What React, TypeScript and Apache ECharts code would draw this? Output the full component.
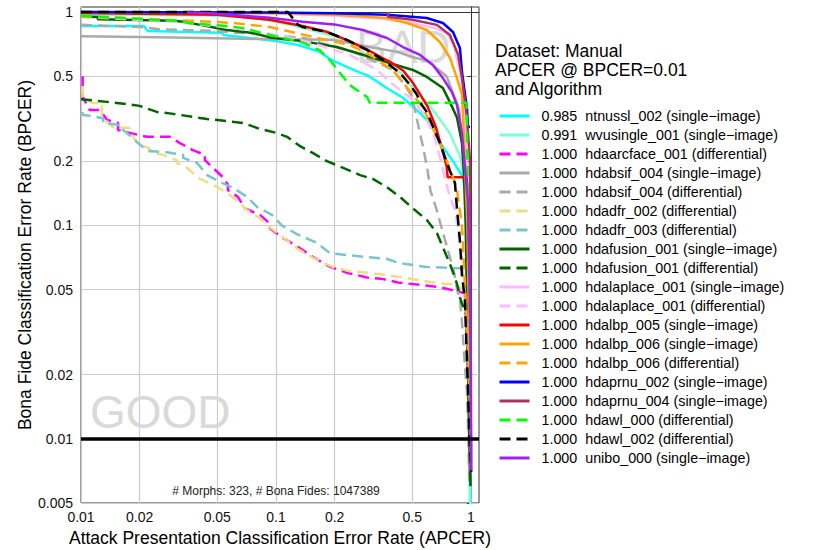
import React, { useEffect, useRef } from "react";
import * as echarts from "echarts";

// ---------- axes ----------
const xTickValues = [0.01, 0.02, 0.05, 0.1, 0.2, 0.5, 1];
const xTickLabels = ["0.01", "0.02", "0.05", "0.1", "0.2", "0.5", "1"];
const yTickValues = [0.005, 0.01, 0.02, 0.05, 0.1, 0.2, 0.5, 1];
const yTickLabels = ["0.005", "0.01", "0.02", "0.05", "0.1", "0.2", "0.5", "1"];
const xRange = [0.01, 1.1];
const yRange = [0.005, 1.055];
const bpcerThreshold = 0.01;

// ---------- legend ----------
const legendTitle = "Dataset: Manual\nAPCER @ BPCER=0.01\nand Algorithm";
const algorithms = [
  "ntnussl_002 (single\u2212image)",
  "wvusingle_001 (single\u2212image)",
  "hdaarcface_001 (differential)",
  "hdabsif_004 (single\u2212image)",
  "hdabsif_004 (differential)",
  "hdadfr_002 (differential)",
  "hdadfr_003 (differential)",
  "hdafusion_001 (single\u2212image)",
  "hdafusion_001 (differential)",
  "hdalaplace_001 (single\u2212image)",
  "hdalaplace_001 (differential)",
  "hdalbp_005 (single\u2212image)",
  "hdalbp_006 (single\u2212image)",
  "hdalbp_006 (differential)",
  "hdaprnu_002 (single\u2212image)",
  "hdaprnu_004 (single\u2212image)",
  "hdawl_000 (differential)",
  "hdawl_002 (differential)",
  "unibo_000 (single\u2212image)",
];
const apcerAtThreshold = [
  "0.985", "0.991", "1.000", "1.000", "1.000", "1.000", "1.000", "1.000", "1.000", "1.000",
  "1.000", "1.000", "1.000", "1.000", "1.000", "1.000", "1.000", "1.000", "1.000",
];
const countsNote = "# Morphs: 323, # Bona Fides: 1047389";

// ---------- curves: [APCER, BPCER] ----------
const ntnussl002Single = [[0.01,0.86],[0.021,0.86],[0.022,0.815],[0.052,0.8],[0.054,0.78],[0.1,0.73],[0.13,0.7],[0.168,0.65],[0.19,0.6],[0.25,0.535],[0.3,0.5],[0.37,0.44],[0.45,0.395],[0.55,0.335],[0.64,0.29],[0.69,0.245],[0.81,0.2],[0.91,0.168],[0.95,0.13],[0.965,0.092],[0.975,0.03],[0.985,0.01],[0.99,0.004]];
const wvusingle001Single = [[0.01,0.97],[0.04,0.965],[0.07,0.95],[0.1,0.9],[0.133,0.85],[0.2,0.77],[0.28,0.68],[0.37,0.58],[0.45,0.505],[0.5,0.44],[0.57,0.39],[0.62,0.36],[0.7,0.31],[0.78,0.27],[0.88,0.21],[0.93,0.158],[0.955,0.092],[0.975,0.03],[0.991,0.01],[0.996,0.004]];
const hdaarcface001Diff = [[0.0102,0.5],[0.0102,0.4],[0.0111,0.347],[0.0125,0.347],[0.0136,0.312],[0.0155,0.302],[0.0155,0.28],[0.0178,0.271],[0.0218,0.26],[0.0286,0.26],[0.0322,0.243],[0.0375,0.225],[0.0432,0.214],[0.0432,0.202],[0.0475,0.186],[0.0535,0.168],[0.0567,0.155],[0.0567,0.146],[0.0638,0.136],[0.0693,0.12],[0.0828,0.112],[0.093,0.102],[0.093,0.097],[0.107,0.088],[0.128,0.08],[0.155,0.071],[0.189,0.064],[0.231,0.06],[0.293,0.057],[0.354,0.056],[0.422,0.054],[0.69,0.0514],[0.88,0.0487],[0.93,0.048],[0.97,0.02],[0.99,0.007]];
const hdabsif004Single = [[0.01,0.77],[0.03,0.76],[0.1,0.745],[0.2,0.74],[0.3,0.685],[0.42,0.65],[0.5,0.615],[0.6,0.59],[0.75,0.5],[0.87,0.35],[0.94,0.15],[0.98,0.03],[1.0,0.007]];
const hdabsif004Diff = [[0.01,0.87],[0.02,0.85],[0.025,0.83],[0.04,0.82],[0.048,0.815],[0.14,0.755],[0.25,0.65],[0.33,0.58],[0.4,0.535],[0.45,0.465],[0.5,0.4],[0.53,0.31],[0.57,0.23],[0.6,0.18],[0.62,0.145],[0.66,0.122],[0.72,0.092],[0.77,0.074],[0.82,0.06],[0.85,0.05],[0.88,0.044],[0.9,0.035],[0.93,0.0225],[0.953,0.017],[0.97,0.01],[0.98,0.006]];
const hdadfr002Diff = [[0.0102,0.45],[0.0102,0.4],[0.0115,0.374],[0.0128,0.374],[0.0128,0.32],[0.0146,0.289],[0.0178,0.286],[0.0178,0.271],[0.0196,0.243],[0.0226,0.228],[0.0226,0.22],[0.0263,0.214],[0.031,0.202],[0.031,0.196],[0.035,0.186],[0.0398,0.167],[0.0475,0.155],[0.0547,0.144],[0.0631,0.131],[0.071,0.118],[0.0828,0.108],[0.093,0.098],[0.1086,0.088],[0.128,0.078],[0.155,0.0704],[0.196,0.0638],[0.239,0.061],[0.293,0.06],[0.371,0.0585],[0.69,0.0535],[0.8,0.053],[0.93,0.05],[0.97,0.02],[0.99,0.007]];
const hdadfr003Diff = [[0.0102,0.34],[0.0102,0.329],[0.0111,0.326],[0.013,0.318],[0.013,0.302],[0.0159,0.295],[0.0159,0.286],[0.0172,0.271],[0.0196,0.243],[0.0221,0.223],[0.0276,0.22],[0.0334,0.214],[0.0334,0.207],[0.0394,0.196],[0.0443,0.172],[0.0516,0.16],[0.0602,0.15],[0.071,0.136],[0.08,0.122],[0.0954,0.112],[0.107,0.1],[0.128,0.091],[0.162,0.0828],[0.189,0.0742],[0.231,0.0726],[0.293,0.071],[0.371,0.0696],[0.432,0.0665],[0.594,0.0638],[0.88,0.063],[0.93,0.06],[0.97,0.02],[0.99,0.007]];
const hdafusion001Single = [[0.01,0.95],[0.0122,0.947],[0.0122,0.925],[0.03,0.91],[0.0334,0.9],[0.0408,0.87],[0.0561,0.823],[0.0762,0.797],[0.093,0.76],[0.137,0.73],[0.205,0.685],[0.279,0.63],[0.384,0.576],[0.504,0.535],[0.594,0.496],[0.718,0.44],[0.78,0.378],[0.848,0.32],[0.9,0.243],[0.92,0.176],[0.94,0.1],[0.96,0.03],[0.98,0.01],[0.995,0.006]];
const hdafusion001Diff = [[0.01,0.39],[0.0136,0.379],[0.0172,0.37],[0.02,0.363],[0.0245,0.34],[0.0297,0.333],[0.0443,0.315],[0.0561,0.308],[0.0677,0.302],[0.0828,0.283],[0.101,0.271],[0.114,0.26],[0.133,0.235],[0.155,0.218],[0.1825,0.2],[0.221,0.186],[0.27,0.172],[0.314,0.165],[0.371,0.151],[0.432,0.136],[0.504,0.12],[0.594,0.106],[0.669,0.092],[0.718,0.079],[0.78,0.066],[0.828,0.057],[0.857,0.0514],[0.878,0.046],[0.9,0.043],[0.942,0.039],[0.97,0.02],[1.0,0.007]];
const hdalaplace001Single = [[0.01,0.99],[0.1,0.98],[0.2,0.96],[0.35,0.93],[0.5,0.888],[0.65,0.84],[0.75,0.797],[0.82,0.7],[0.85,0.596],[0.9,0.48],[0.95,0.2],[0.98,0.05],[1.0,0.01],[1.0,0.007]];
const hdalaplace001Diff = [[0.01,0.95],[0.03,0.9],[0.0736,0.823],[0.0878,0.8],[0.15,0.72],[0.239,0.63],[0.33,0.535],[0.384,0.47],[0.448,0.42],[0.49,0.395],[0.58,0.33],[0.66,0.25],[0.72,0.18],[0.78,0.136],[0.83,0.118],[0.9,0.07],[0.96,0.03],[1.0,0.01],[1.0,0.007]];
const hdalbp005Single = [[0.01,0.99],[0.05,0.97],[0.093,0.92],[0.137,0.86],[0.18,0.81],[0.23,0.74],[0.3,0.66],[0.35,0.61],[0.39,0.58],[0.45,0.53],[0.5,0.47],[0.55,0.41],[0.6,0.36],[0.66,0.29],[0.7,0.24],[0.75,0.19],[0.76,0.168],[0.95,0.168],[0.96,0.1],[0.98,0.03],[1.0,0.01],[1.0,0.007]];
const hdalbp006Single = [[0.01,1.0],[0.093,0.99],[0.205,0.97],[0.37,0.937],[0.47,0.888],[0.594,0.823],[0.693,0.723],[0.78,0.61],[0.848,0.49],[0.9,0.41],[0.91,0.33],[0.93,0.2],[0.96,0.1],[0.98,0.03],[1.0,0.01],[1.0,0.007]];
const hdalbp006Diff = [[0.01,0.95],[0.016,0.937],[0.0297,0.917],[0.0475,0.9],[0.0602,0.888],[0.093,0.85],[0.155,0.764],[0.239,0.7],[0.303,0.63],[0.4,0.53],[0.504,0.41],[0.567,0.355],[0.693,0.243],[0.753,0.2],[0.809,0.168],[0.848,0.146],[0.9,0.1],[0.96,0.03],[1.0,0.01],[1.0,0.007]];
const hdaprnu002Single = [[0.01,1.0],[0.093,0.995],[0.2,0.985],[0.37,0.97],[0.594,0.937],[0.718,0.888],[0.809,0.806],[0.878,0.678],[0.9,0.523],[0.93,0.42],[0.955,0.35],[0.965,0.29],[0.99,0.29]];
const hdaprnu004Single = [[0.375,1.0],[0.375,0.95],[0.5,0.92],[0.669,0.87],[0.78,0.78],[0.86,0.63],[0.9,0.49],[0.95,0.33],[0.99,0.2],[1.0,0.01],[1.0,0.007]];
const hdawl000Diff = [[0.01,0.96],[0.0194,0.93],[0.0245,0.915],[0.031,0.91],[0.0362,0.885],[0.0475,0.87],[0.0561,0.86],[0.0677,0.84],[0.0828,0.8],[0.093,0.78],[0.105,0.76],[0.137,0.72],[0.168,0.66],[0.189,0.595],[0.213,0.518],[0.239,0.455],[0.27,0.42],[0.293,0.4],[0.303,0.375],[0.6,0.375],[0.95,0.375],[0.96,0.2],[0.98,0.05],[1.0,0.01],[1.0,0.007]];
const hdawl002Diff = [[0.01,1.0],[0.115,1.0],[0.13,0.87],[0.137,0.85],[0.1825,0.806],[0.231,0.74],[0.293,0.664],[0.354,0.596],[0.432,0.518],[0.487,0.455],[0.528,0.41],[0.561,0.366],[0.594,0.34],[0.693,0.243],[0.78,0.18],[0.828,0.158],[0.848,0.12],[0.878,0.085],[0.9,0.058],[0.931,0.045],[0.96,0.02],[1.0,0.007]];
const unibo000Single = [[0.035,0.995],[0.0443,0.99],[0.093,0.94],[0.137,0.9],[0.205,0.87],[0.279,0.823],[0.371,0.755],[0.448,0.685],[0.548,0.629],[0.638,0.564],[0.718,0.49],[0.8,0.42],[0.848,0.366],[0.9,0.27],[0.931,0.188],[0.965,0.13],[0.988,0.045],[1.0,0.02],[1.0,0.0071]];

const curves = [
  ntnussl002Single, wvusingle001Single, hdaarcface001Diff, hdabsif004Single, hdabsif004Diff,
  hdadfr002Diff, hdadfr003Diff, hdafusion001Single, hdafusion001Diff, hdalaplace001Single,
  hdalaplace001Diff, hdalbp005Single, hdalbp006Single, hdalbp006Diff, hdaprnu002Single,
  hdaprnu004Single, hdawl000Diff, hdawl002Diff, unibo000Single,
];

// ---------- styles ----------
const seriesStyles = [
  { color: "#00FFFF", dashed: false },
  { color: "#7FFFD4", dashed: false },
  { color: "#FF00FF", dashed: true },
  { color: "#AAAAAA", dashed: false },
  { color: "#AAAAAA", dashed: true },
  { color: "#EEDD82", dashed: true },
  { color: "#7AC5CD", dashed: true },
  { color: "#006400", dashed: false },
  { color: "#006400", dashed: true },
  { color: "#FFBBFF", dashed: false },
  { color: "#FFBBFF", dashed: true },
  { color: "#FF0000", dashed: false },
  { color: "#FFA500", dashed: false },
  { color: "#FFA500", dashed: true },
  { color: "#0000FF", dashed: false },
  { color: "#B03060", dashed: false },
  { color: "#00FF00", dashed: true },
  { color: "#000000", dashed: true },
  { color: "#A020F0", dashed: false },
];

const FONT = '"Liberation Sans", Arial, Helvetica, sans-serif';
const lg = (v: number) => Math.log10(v);

function labelFor(values: number[], labels: string[]) {
  return (v: number) => {
    const i = values.findIndex((t) => Math.abs(lg(t) - v) < 1e-6);
    return i >= 0 ? labels[i] : "";
  };
}

export default function App() {
  const ref = useRef<HTMLDivElement>(null);
  useEffect(() => {
    if (!ref.current) return;
    const chart = echarts.init(ref.current, undefined, { renderer: "svg" });
    const names = algorithms.map((a, i) => `${apcerAtThreshold[i]}\u00a0\u00a0${a}`);
    const series: any[] = curves.map((data, i) => ({
      type: "line",
      name: names[i],
      data: data.map(([x, y]) => [lg(x), lg(y)]),
      symbol: "none",
      showSymbol: false,
      clip: true,
      silent: true,
      lineStyle: {
        color: seriesStyles[i].color,
        width: 2.5,
        type: seriesStyles[i].dashed ? [11, 6] : "solid",
      },
      itemStyle: { color: seriesStyles[i].color },
      ...(i === 0
        ? {
            markLine: {
              silent: true,
              symbol: "none",
              label: { show: false },
              lineStyle: { color: "#000", width: 3.5, type: "solid" },
              data: [{ yAxis: lg(bpcerThreshold) }],
            },
          }
        : {}),
    }));

    chart.setOption({
      animation: false,
      textStyle: { fontFamily: FONT },
      grid: {
        left: 81,
        top: 7,
        right: 346,
        bottom: 47,
        show: true,
        borderColor: "#333",
        borderWidth: 1,
        containLabel: false,
        outerBoundsMode: "none",
      },
      title: {
        text: legendTitle,
        left: 495,
        top: 41,
        padding: 0,
        textStyle: {
          fontFamily: FONT,
          fontSize: 17.5,
          fontWeight: "normal",
          lineHeight: 19,
          color: "#000",
        },
      },
      legend: {
        orient: "vertical",
        left: 498,
        top: 109,
        padding: 0,
        itemWidth: 30,
        itemHeight: 14,
        itemGap: 5,
        selectedMode: false,
        data: names,
        itemStyle: { opacity: 0, borderWidth: 0 },
        lineStyle: { width: 3 },
        textStyle: { fontFamily: FONT, fontSize: 14.3, color: "#000", padding: [0, 0, 0, 7] },
      },
      xAxis: {
        type: "value",
        min: lg(xRange[0]),
        max: lg(xRange[1]),
        name: "Attack Presentation Classification Error Rate (APCER)",
        nameLocation: "middle",
        nameGap: 26,
        nameTextStyle: { fontFamily: FONT, fontSize: 17.5, color: "#000" },
        axisLine: { show: true, lineStyle: { color: "#333", width: 1 } },
        axisTick: {
          show: true,
          length: 4,
          customValues: xTickValues.map(lg),
          lineStyle: { color: "#333" },
        },
        axisLabel: {
          customValues: xTickValues.map(lg),
          formatter: labelFor(xTickValues, xTickLabels),
          fontFamily: FONT,
          fontSize: 14,
          color: "#111",
          margin: 7,
          showMinLabel: true,
          showMaxLabel: true,
        },
        splitLine: { show: true, lineStyle: { color: "#CCCCCC", width: 1.2 } },
      },
      yAxis: {
        type: "value",
        min: lg(yRange[0]),
        max: lg(yRange[1]),
        name: "Bona Fide Classification Error Rate (BPCER)",
        nameLocation: "middle",
        nameGap: 46,
        nameTextStyle: { fontFamily: FONT, fontSize: 17.5, color: "#000" },
        axisLine: { show: true, lineStyle: { color: "#333", width: 1 } },
        axisTick: {
          show: true,
          length: 4,
          customValues: yTickValues.map(lg),
          lineStyle: { color: "#333" },
        },
        axisLabel: {
          customValues: yTickValues.map(lg),
          formatter: labelFor(yTickValues, yTickLabels),
          fontFamily: FONT,
          fontSize: 14,
          color: "#111",
          margin: 8,
          showMinLabel: true,
          showMaxLabel: true,
        },
        splitLine: { show: true, lineStyle: { color: "#CCCCCC", width: 1.2 } },
      },
      graphic: [
        {
          type: "text",
          x: 90,
          y: 412,
          z: 1,
          silent: true,
          style: { text: "GOOD", fontFamily: FONT, fontSize: 46, fill: "#D9D9D9", align: "left", verticalAlign: "middle" },
        },
        {
          type: "text",
          x: 356,
          y: 47,
          z: 1,
          silent: true,
          style: { text: "BAD", fontFamily: FONT, fontSize: 46, fill: "#D9D9D9", align: "left", verticalAlign: "middle" },
        },
        {
          type: "text",
          x: 276,
          y: 491,
          z: 5,
          silent: true,
          style: { text: countsNote, fontFamily: FONT, fontSize: 12, fill: "#222", align: "center", verticalAlign: "middle" },
        },
      ],
      series,
    });
    return () => chart.dispose();
  }, []);
  return (
    <div
      ref={ref}
      style={{ position: "absolute", left: 0, top: 0, width: 825, height: 550, background: "#fff" }}
    />
  );
}
